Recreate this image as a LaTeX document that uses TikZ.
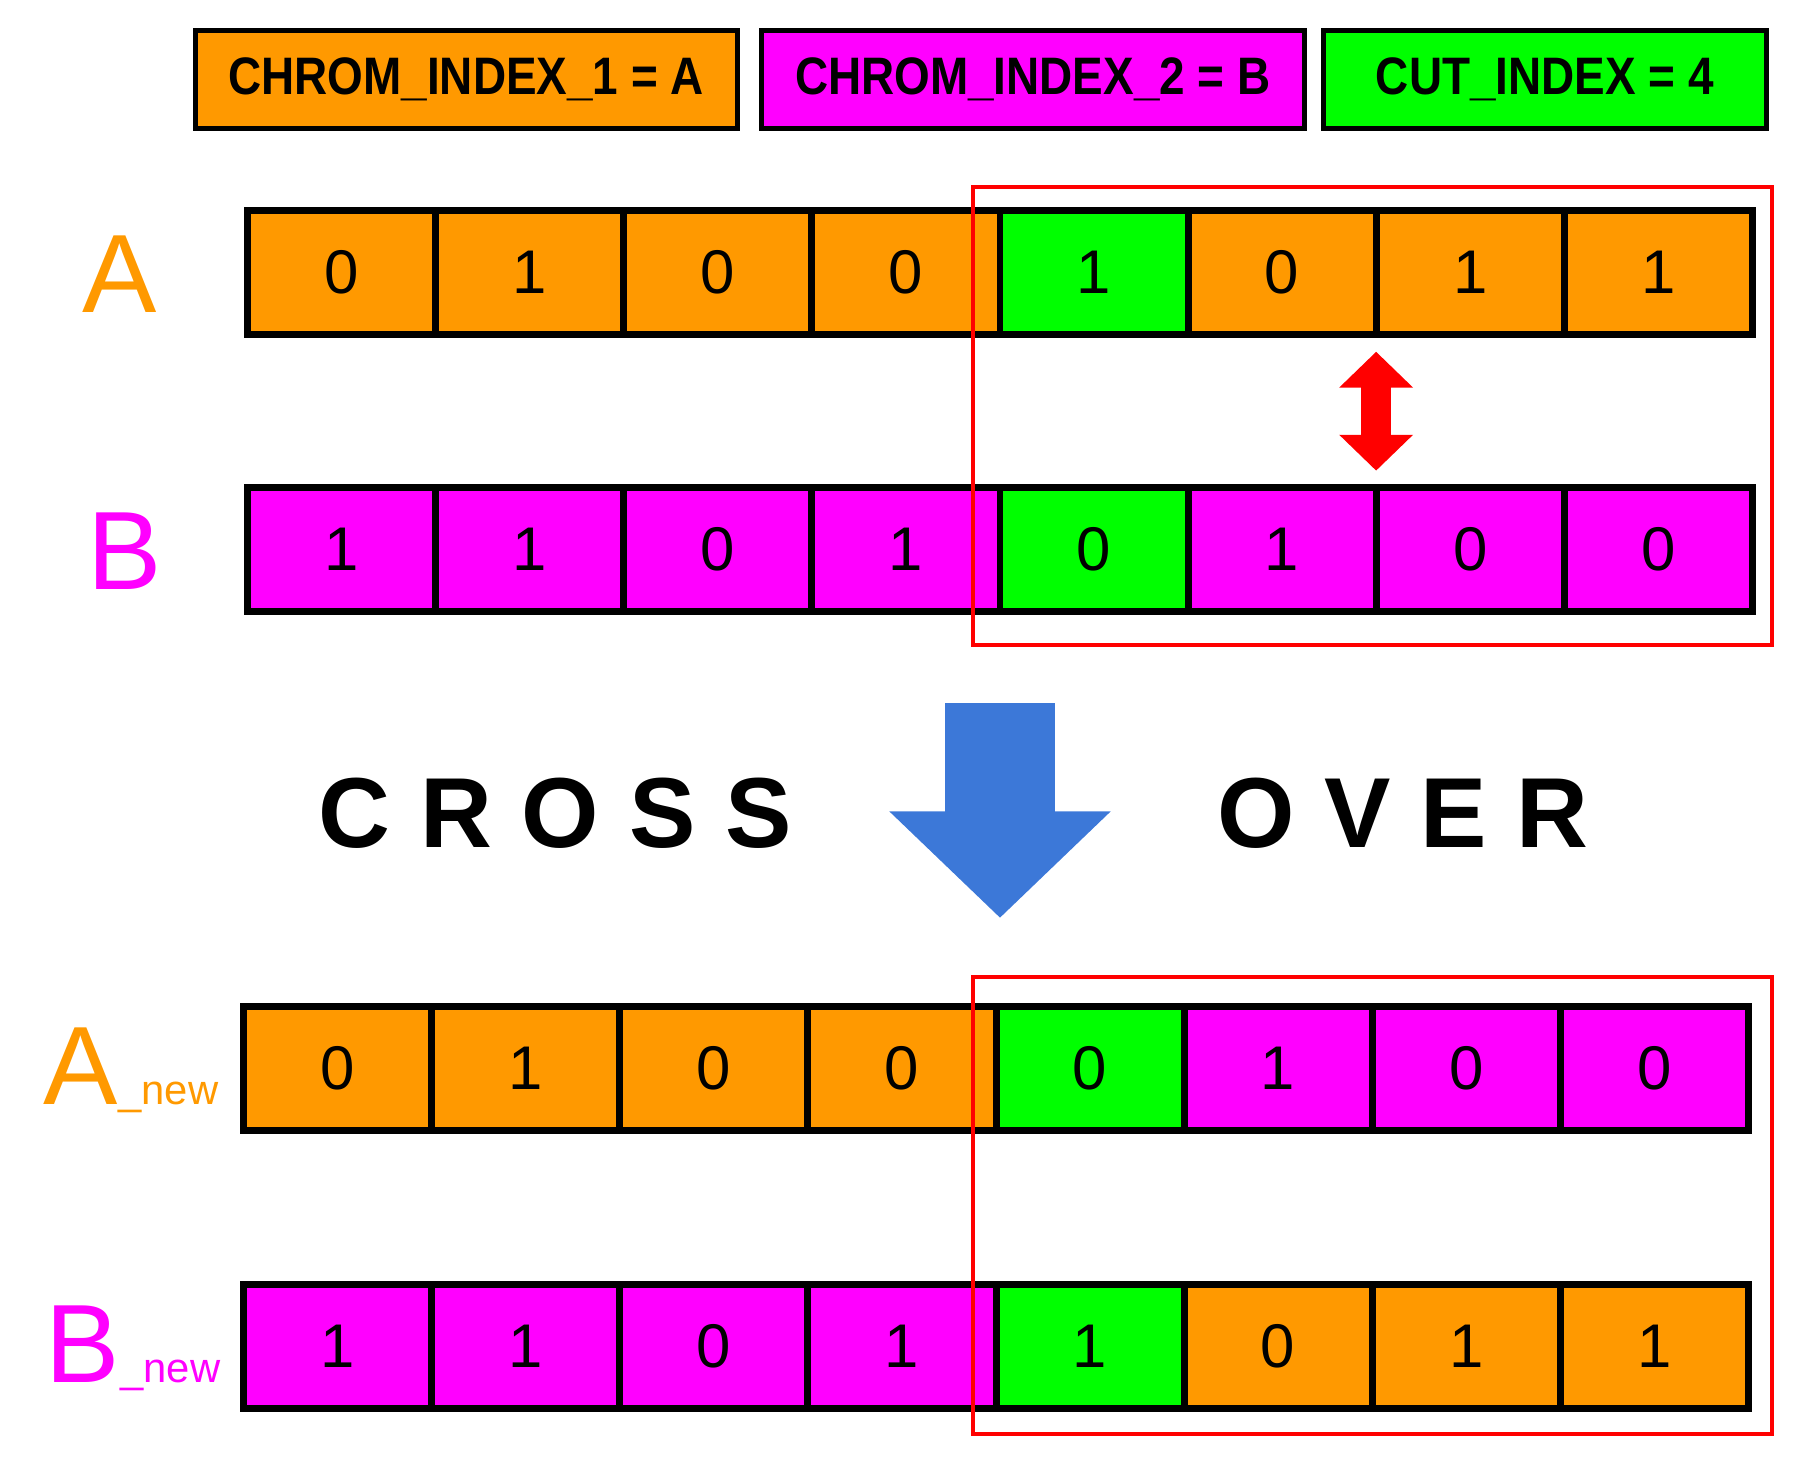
\documentclass[tikz,border=0pt]{standalone}
\usepackage{fontspec}
\setmainfont{Liberation Sans}
\usetikzlibrary{arrows.meta}
\definecolor{orng}{RGB}{255,153,0}
\definecolor{mgnt}{RGB}{255,0,255}
\definecolor{grn}{RGB}{0,255,0}
\definecolor{blu}{RGB}{60,120,216}
\definecolor{rd}{RGB}{255,0,0}
\newcommand\subtxtfont{\fontsize{42}{48}\selectfont}
\begin{document}
\begin{tikzpicture}[x=1pt,y=-1pt,
  cell/.style={draw=black, line width=7pt, minimum width=189pt, minimum height=125pt,
    inner sep=0pt, outer sep=0pt, font=\fontsize{62}{70}\selectfont, text=black},
  infobox/.style={draw=black, line width=5pt, minimum height=98pt, inner sep=0pt,
    outer sep=0pt, font=\bfseries\fontsize{53}{60}\selectfont\addfontfeature{FakeStretch=0.87}, text=black},
  biglabel/.style={inner sep=0pt, anchor=base west, font=\fontsize{112}{120}\selectfont},
  bannertxt/.style={inner sep=0pt, anchor=base west,
    font=\bfseries\fontsize{100}{110}\selectfont\addfontfeature{LetterSpace=30}},
  redframe/.style={draw=rd, line width=3.5pt},
  swaparrow/.style={draw=rd, line width=30pt, {Triangle[width=72pt,length=36pt]}-{Triangle[width=72pt,length=36pt]}},
  flowarrow/.style={draw=blu, line width=111pt, -{Triangle[width=216pt,length=107pt]}}
]
\useasboundingbox (0,0) rectangle (1809,1469);

% info boxes
\node[infobox, fill=orng, minimum width=545pt] (info1) at (468.5,80) {CHROM\_INDEX\_1 = A};
\node[infobox, fill=mgnt, minimum width=546pt] (info2) at (1038,80) {CHROM\_INDEX\_2 = B};
\node[infobox, fill=grn, minimum width=445pt] (info3) at (1552.5,80) {CUT\_INDEX = 4};

% row A
\foreach \v [count=\i] in {0,1,0,0,1,0,1,1}{
  \ifnum\i=5 \def\cc{grn}\else\def\cc{orng}\fi
  \node[cell, fill=\cc] (a\i) at ({249+(\i-0.5)*189},274) {\v};
}
% row B
\foreach \v [count=\i] in {1,1,0,1,0,1,0,0}{
  \ifnum\i=5 \def\cc{grn}\else\def\cc{mgnt}\fi
  \node[cell, fill=\cc] (b\i) at ({249+(\i-0.5)*189},552.5) {\v};
}
% row A_new
\foreach \v [count=\i] in {0,1,0,0,0,1,0,0}{
  \ifnum\i<5 \def\cc{orng}\else\ifnum\i=5 \def\cc{grn}\else\def\cc{mgnt}\fi\fi
  \node[cell, fill=\cc] (na\i) at ({245+(\i-0.5)*189},1074) {\v};
}
% row B_new
\foreach \v [count=\i] in {1,1,0,1,1,0,1,1}{
  \ifnum\i<5 \def\cc{mgnt}\else\ifnum\i=5 \def\cc{grn}\else\def\cc{orng}\fi\fi
  \node[cell, fill=\cc] (nb\i) at ({245+(\i-0.5)*189},1353) {\v};
}

% labels
\node[biglabel, text=orng] (labA) at (83,314) {A};
\node[biglabel, text=mgnt] (labB) at (88,592) {B};
\node[biglabel, text=orng] (labAn) at (44,1110) {A{\subtxtfont\_new}};
\node[biglabel, text=mgnt] (labBn) at (46,1389) {B{\subtxtfont\_new}};

% red frames
\coordinate (f1a) at (978,188);
\coordinate (f1b) at (1781,648);
\coordinate (f2a) at (978,982);
\coordinate (f2b) at (1781,1441);
\draw[redframe] (f1a) rectangle (f1b);
\draw[redframe] (f2a) rectangle (f2b);

% swap arrow
\draw[swaparrow] ([yshift=-17pt]a6.south east) -- ([yshift=17pt]b6.north east);

% crossover arrow and text
\coordinate (flowend) at (b4.south east |- na4.north east);
\draw[flowarrow] ([yshift=-92pt]b4.south east) -- ([yshift=89pt]flowend);
\node[bannertxt] (cross) at (320,852) {CROSS};
\node[bannertxt] (over) at (1223,852) {OVER};
\end{tikzpicture}
\end{document}
